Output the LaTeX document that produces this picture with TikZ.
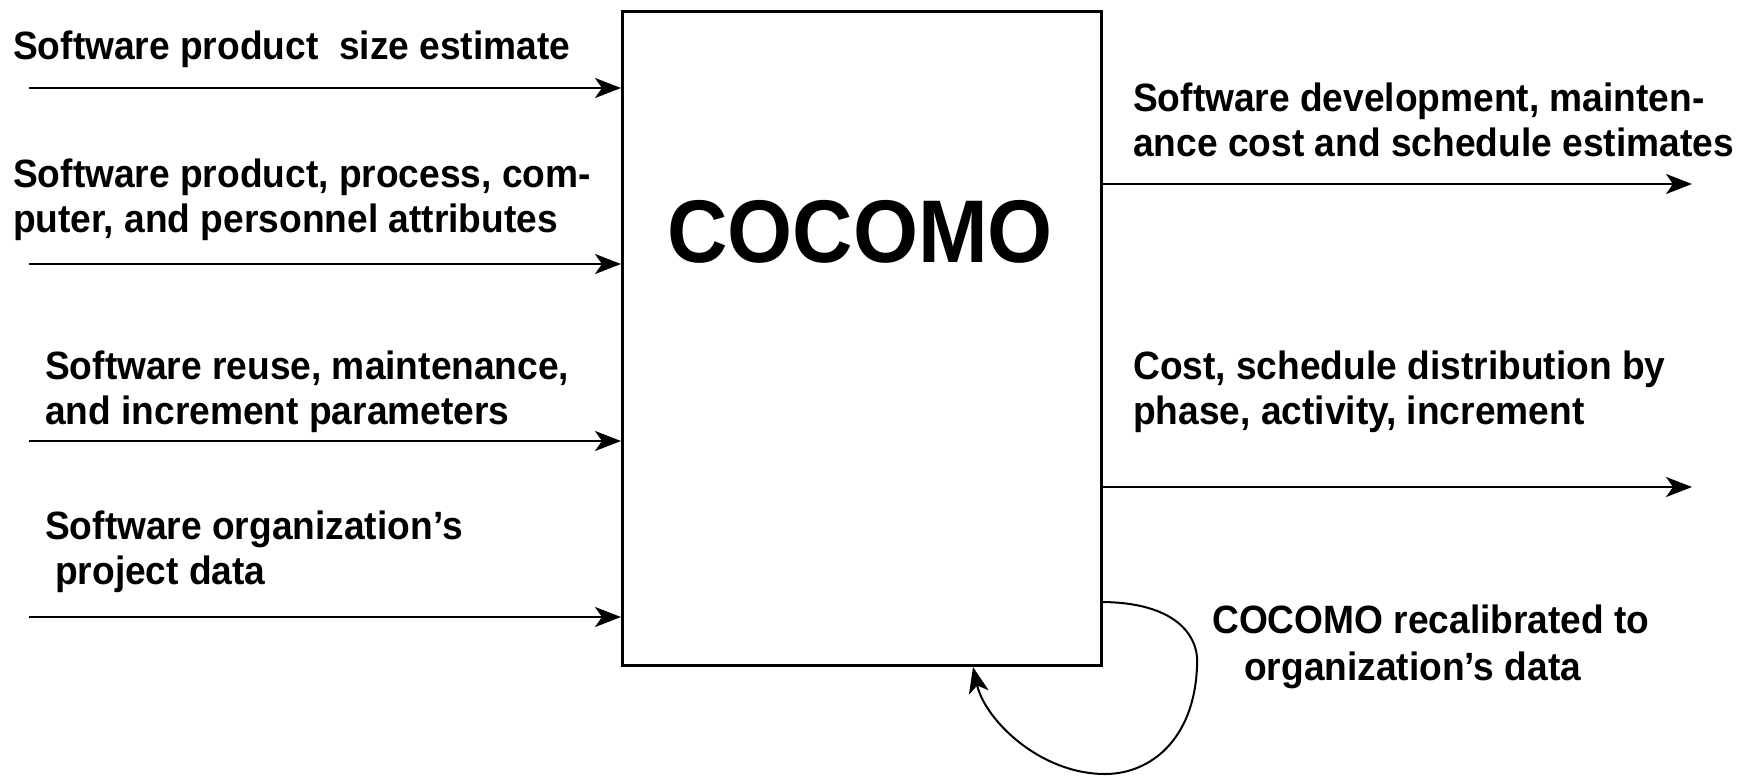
\documentclass[tikz,border=0pt]{standalone}
\usepackage{fontspec}
\setmainfont{Liberation Sans}[FakeStretch=0.94]
\usetikzlibrary{arrows.meta}
\begin{document}
\begin{tikzpicture}[x=1pt,y=-1pt,
  lbl/.style={anchor=west,inner sep=0pt,align=left,font=\fontsize{39.5}{44.5}\selectfont\bfseries},
  conn/.style={line width=2.5pt,-{Stealth[length=26pt,width=20pt,inset=7pt]}}]
\useasboundingbox (0,0) rectangle (1749,777);
% main box
\node[draw,line width=2.5pt,minimum width=479pt,minimum height=654pt,inner sep=0pt,anchor=north west] (box) at (621,10) {};
\node[inner sep=0pt,font=\fontsize{89}{95}\selectfont\bfseries] (title) at (860,232) {COCOMO};
% inputs
\coordinate (i1) at (29,88);
\coordinate (i2) at (29,264);
\coordinate (i3) at (29,441);
\coordinate (i4) at (29,617);
\draw[conn] (i1) -- (box.west |- i1);
\draw[conn] (i2) -- (box.west |- i2);
\draw[conn] (i3) -- (box.west |- i3);
\draw[conn] (i4) -- (box.west |- i4);
\node[lbl] (l1) at (13,49) {Software product\ \ size estimate};
\node[lbl] (l2) at (13,200) {Software product, process, com-\\puter, and personnel attributes};
\node[lbl] (l3) at (45,392) {Software reuse, maintenance,\\and increment parameters};
\node[lbl] (l4) at (45,552) {Software organization’s\\\hspace*{10pt}project data};
% outputs
\coordinate (o1) at (1692,184);
\coordinate (o2) at (1692,487);
\draw[conn] (box.east |- o1) -- (o1);
\draw[conn] (box.east |- o2) -- (o2);
\node[lbl] (r1) at (1133,120) {Software development, mainten-\\ance cost and schedule estimates};
\node[lbl] (r2) at (1133,392) {Cost, schedule distribution by\\phase, activity, increment};
% recalibration loop
\coordinate (ls) at (1100,602);
\coordinate (le) at (973,667);
\draw[line width=2pt,-{Stealth[length=26pt,width=20pt,inset=7pt]}] (ls) .. controls (1175,602) and (1200,635) .. (1197,667)
  .. controls (1194,740) and (1150,774) .. (1105,774)
  .. controls (1040,774) and (985,720) .. (le);
\node[anchor=west,inner sep=0pt,align=left,font=\fontsize{39.5}{47}\selectfont\bfseries] (rc) at (1212,647) {COCOMO recalibrated to\\\hspace*{32pt}organization’s data};
\end{tikzpicture}
\end{document}
